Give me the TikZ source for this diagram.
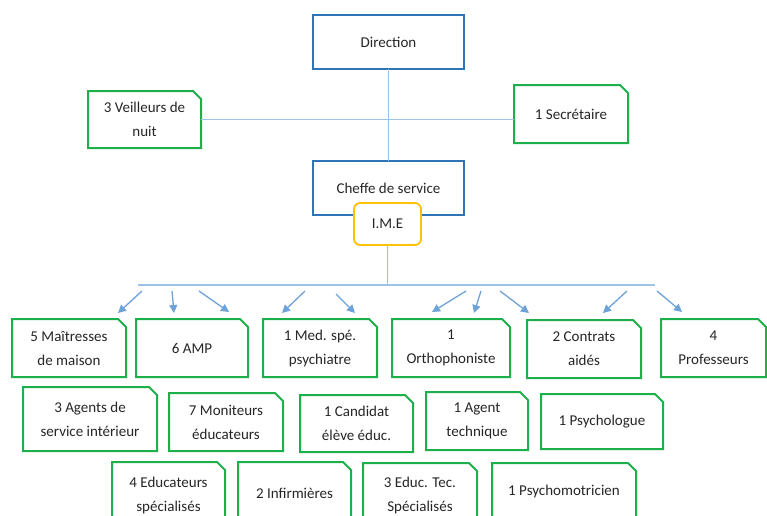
\documentclass[tikz,border=0pt]{standalone}
\usepackage{fontspec}
\setmainfont{Carlito}
\usetikzlibrary{arrows.meta}
\definecolor{boxblue}{HTML}{2E75B6}
\definecolor{linkblue}{HTML}{9DC3E6}
\definecolor{arrowblue}{HTML}{6FA3D8}
\definecolor{boxgreen}{HTML}{1DB04A}
\definecolor{imeorange}{HTML}{FFC000}
\definecolor{txt}{HTML}{262626}
\tikzset{
  txtbox/.style={inner sep=2pt, outer sep=0pt, align=center, text=txt,
    font=\fontsize{15}{24}\selectfont},
  bluebox/.style={txtbox, draw=boxblue, line width=2pt, fill=white},
  imebox/.style={txtbox, draw=imeorange, line width=1.8pt, fill=white, rounded corners=6pt},
  greenline/.style={draw=boxgreen, line width=2pt, line join=miter},
  link/.style={draw=linkblue, line width=1.5pt},
  arr/.style={draw=arrowblue, line width=1.3pt, -{Triangle[length=8pt,width=8pt]}}
}
% name, x1, y1, x2, y2, text
\newcommand\snipbox[6]{%
  \node[txtbox, minimum width={#4pt-#2pt}, minimum height={#5pt-#3pt}] (#1) at ({(#2+#4)/2},{(#3+#5)/2}) {#6};
  \draw[greenline] (#1.south west) -- (#1.north west) -- ([xshift=-8pt]#1.north east)
     -- ([yshift=-8pt]#1.north east) -- (#1.south east) -- cycle;
}
\newcommand\bbox[6]{%
  \node[bluebox, minimum width={#4pt-#2pt}, minimum height={#5pt-#3pt}] (#1) at ({(#2+#4)/2},{(#3+#5)/2}) {#6};
}
\begin{document}
\begin{tikzpicture}[x=1pt,y=-1pt]
\clip (0,0) rectangle (767,515);
\useasboundingbox (0,0) rectangle (767,515);
\fill[white] (0,0) rectangle (767,515);

\coordinate (hubB) at (389,285);
\coordinate (barL) at (138,285);
\coordinate (barR) at (655,285);

\bbox{dir}{313}{15}{464}{69}{Direction}
\snipbox{veil}{88}{91}{201}{148}{3 Veilleurs de\\nuit}
\snipbox{secr}{514}{85}{628}{143}{1 Secrétaire}
\bbox{chef}{313}{161}{464}{215}{Cheffe de service}

\draw[link] (dir.south) -- (chef.north);
\draw[link] (veil.east) -- (veil.east -| secr.west);
\draw[link] (barL) -- (barR);

\node[imebox, minimum width=67pt, minimum height=42pt] (ime) at (387.5,224) {I.M.E};
\draw[link] (ime.south) -- (ime.south |- hubB);

% arrows
\foreach \i/\sx/\sy/\ex/\ey in {
  1/142/291/118/313, 2/172/291/174/313, 3/199/291/229/312,
  4/305/291/282/313, 5/336/294/355/313,
  6/466/291/432/312, 7/481/291/474/313, 8/500/291/529/313,
  9/627/291/603/313, 10/657/291/682/312}{
  \coordinate (s\i) at (\sx,\sy);
  \coordinate (e\i) at (\ex,\ey);
  \draw[arr] (s\i) -- (e\i);
}

% row 1
\snipbox{mait}{12}{319}{126}{377}{5 Maîtresses\\de maison}
\snipbox{amp}{136}{319}{248}{377}{6 AMP}
\snipbox{med}{263}{319}{377}{377}{1 Med. spé.\\psychiatre}
\snipbox{orth}{392}{319}{510}{377}{1\\Orthophoniste}
\snipbox{contr}{527}{320}{641}{378}{2 Contrats\\aidés}
\snipbox{prof}{661}{319}{766}{377}{4\\Professeurs}

% row 2
\snipbox{agser}{23}{387}{157}{451}{3 Agents de\\service intérieur}
\snipbox{monit}{169}{393}{283}{451}{7 Moniteurs\\éducateurs}
\snipbox{cand}{300}{395}{413}{452}{1 Candidat\\élève éduc.}
\snipbox{agtech}{426}{392}{528}{450}{1 Agent\\technique}
\snipbox{psylo}{541}{394}{663}{449}{1 Psychologue}

% row 3
\snipbox{educ}{112}{462}{225}{528}{4 Educateurs\\spécialisés}
\snipbox{infir}{238}{462}{351}{524}{2 Infirmières}
\snipbox{edtec}{363}{463}{477}{528}{3 Educ. Tec.\\Spécialisés}
\snipbox{psymo}{492}{463}{636}{520}{1 Psychomotricien}
\end{tikzpicture}
\end{document}
